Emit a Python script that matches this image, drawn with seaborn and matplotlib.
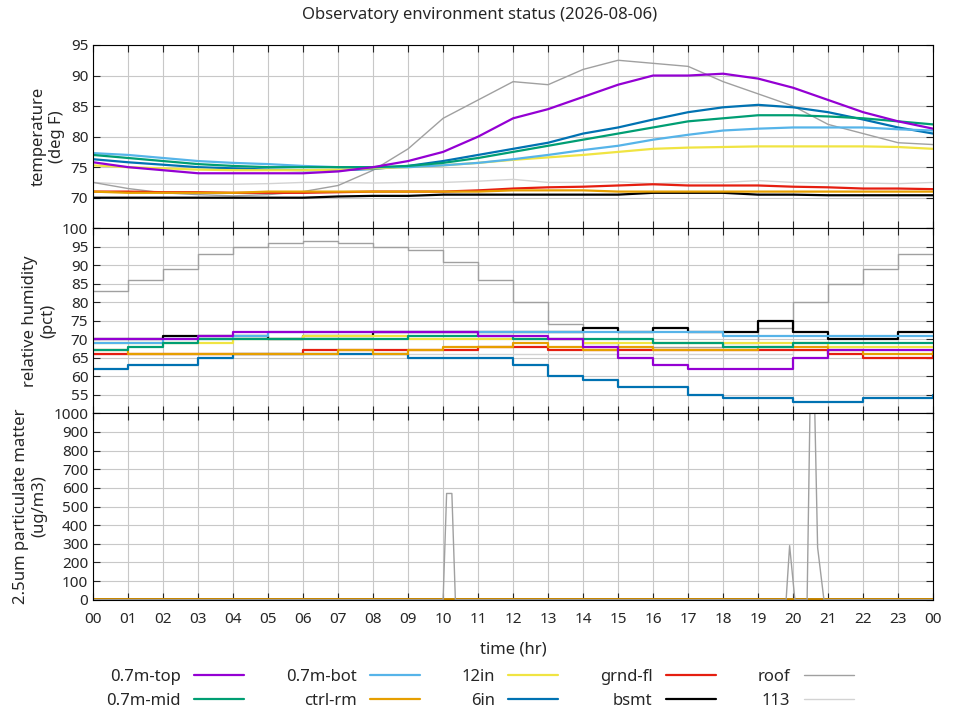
import numpy as np
import matplotlib
matplotlib.use("Agg")
import matplotlib.pyplot as plt
from matplotlib.ticker import MultipleLocator, FuncFormatter
import seaborn as sns

# ── hourly samples (hr 0..24) ──
hours = list(range(25))
hour_labels = [f"{h % 24:02d}" for h in hours]

temp = {
    "0.7m-top": [75.8, 75, 74.5, 74, 74, 74, 74, 74.3, 75, 76, 77.5, 80, 83, 84.5, 86.5, 88.5, 90, 90, 90.3, 89.5, 88, 86, 84, 82.5, 81.3],
    "0.7m-mid": [77, 76.5, 76, 75.5, 75.2, 75, 75, 75, 75, 75.2, 75.7, 76.5, 77.5, 78.5, 79.5, 80.5, 81.5, 82.5, 83, 83.5, 83.5, 83.3, 83, 82.5, 82],
    "0.7m-bot": [77.3, 77, 76.5, 76, 75.7, 75.5, 75.2, 75, 75, 75, 75.3, 75.7, 76.3, 77, 77.8, 78.5, 79.5, 80.3, 81, 81.3, 81.5, 81.5, 81.5, 81.2, 81],
    "ctrl-rm": [71, 70.8, 70.8, 70.8, 70.8, 71, 71, 71, 71, 71, 71, 71, 71.2, 71.2, 71.2, 71, 71, 71, 71, 71, 71, 71, 71, 71, 71],
    "12in": [75.3, 75, 74.8, 74.6, 74.5, 74.5, 74.5, 74.6, 74.8, 75, 75.3, 75.7, 76.2, 76.6, 77, 77.5, 78, 78.2, 78.3, 78.4, 78.4, 78.4, 78.4, 78.3, 78],
    "6in": [76.3, 75.8, 75.4, 75, 74.8, 74.6, 74.5, 74.5, 74.7, 75.2, 76, 77, 78, 79, 80.5, 81.5, 82.8, 84, 84.8, 85.2, 84.8, 84, 82.8, 81.5, 80.5],
    "grnd-fl": [71, 71, 70.9, 70.9, 70.8, 70.8, 70.8, 70.9, 71, 71, 71, 71.2, 71.5, 71.7, 71.8, 72, 72.2, 72, 72, 72, 71.8, 71.7, 71.5, 71.5, 71.4],
    "bsmt": [70, 70, 70, 70, 70, 70, 70, 70.2, 70.3, 70.3, 70.5, 70.5, 70.5, 70.5, 70.5, 70.5, 70.8, 70.8, 70.8, 70.5, 70.5, 70.4, 70.4, 70.4, 70.4],
    "roof": [72.5, 71.5, 70.8, 70.5, 70.3, 70.5, 71, 72, 74.5, 78, 83, 86, 89, 88.5, 91, 92.5, 92, 91.5, 89, 87, 85, 82, 80.5, 79, 78.7],
    "113": [72.5, 72.2, 72.2, 72.2, 72.2, 72.3, 72.5, 72.5, 72.4, 72.5, 72.5, 72.7, 73, 72.5, 72.5, 72.6, 72.3, 72.5, 72.5, 72.8, 72.5, 72.4, 72.4, 72.3, 72.5],
}

rh = {
    "0.7m-top": [70, 70, 70, 71, 72, 72, 72, 72, 72, 72, 72, 71, 71, 70, 68, 65, 63, 62, 62, 62, 65, 67, 67, 67, 67],
    "0.7m-mid": [67, 68, 69, 70, 70, 70, 70, 70, 70, 71, 71, 71, 70, 70, 70, 70, 69, 69, 68, 68, 69, 69, 69, 69, 69],
    "0.7m-bot": [69, 69, 70, 70, 71, 72, 72, 72, 72, 72, 72, 72, 72, 72, 72, 72, 72, 72, 71, 71, 71, 71, 71, 71, 71],
    "ctrl-rm": [67, 66, 66, 66, 66, 66, 66, 67, 66, 67, 68, 68, 69, 68, 67, 68, 67, 67, 67, 68, 68, 67, 66, 66, 67],
    "12in": [69, 69, 69, 69, 70, 70, 71, 71, 71, 70, 70, 70, 70, 70, 69, 69, 69, 69, 69, 69, 69, 68, 68, 68, 68],
    "6in": [62, 63, 63, 65, 66, 66, 66, 66, 66, 65, 65, 65, 63, 60, 59, 57, 57, 55, 54, 54, 53, 53, 54, 54, 55],
    "grnd-fl": [66, 66, 66, 66, 66, 66, 67, 67, 67, 67, 67, 68, 68, 67, 67, 67, 67, 67, 67, 67, 67, 66, 65, 65, 66],
    "bsmt": [70, 70, 71, 71, 71, 70, 71, 71, 72, 72, 72, 72, 72, 72, 73, 72, 73, 72, 72, 75, 72, 70, 70, 72, 72],
    "roof": [83, 86, 89, 93, 95, 96, 96.5, 96, 95, 94, 91, 86, 80, 74, 69, 68, 68, 68, 69, 73, 80, 85, 89, 93, 93],
    "113": [66, 66, 66, 66, 66, 66, 66, 66, 66, 66, 66, 66, 66, 66, 66, 66, 66, 66, 66, 66, 67, 67, 67, 67, 67],
}

# particulate matter: only roof has events, others near zero
pm_roof_t = [0, 10.0, 10.1, 10.25, 10.35, 19.8, 19.9, 20.05, 20.4, 20.48, 20.62, 20.7, 20.88, 24]
pm_roof_v = [0, 0, 570, 570, 0, 0, 290, 0, 0, 1000, 1000, 280, 0, 0]
pm_low = {"grnd-fl": [5] * 25, "bsmt": [2] * 25, "ctrl-rm": [3] * 25}

colors = {
    "0.7m-top": "#9400d3", "0.7m-mid": "#009e73", "0.7m-bot": "#56b4e9",
    "ctrl-rm": "#e69f00", "12in": "#f0e442", "6in": "#0072b2",
    "grnd-fl": "#e51e10", "bsmt": "#000000", "roof": "#a0a0a0", "113": "#d3d3d3",
}
order = ["0.7m-top", "0.7m-mid", "0.7m-bot", "ctrl-rm", "12in", "6in",
         "grnd-fl", "bsmt", "roof", "113"]

sns.set_style("ticks")
plt.rcParams["font.family"] = ["Noto Sans", "DejaVu Sans"]

fig = plt.figure(figsize=(9.6, 7.2), dpi=100)
axes = [fig.add_axes([0.097, b, 0.875, h]) for b, h in
        [(0.683, 0.2545), (0.426, 0.257), (0.167, 0.259)]]
ax_t, ax_h, ax_p = axes


def lw(name):
    return 1.0 if name in ("roof", "113") else 1.6


for name in reversed(order):
    sns.lineplot(x=hours, y=temp[name], ax=ax_t, color=colors[name], lw=lw(name), label=name)
    sns.lineplot(x=hours, y=rh[name], ax=ax_h, color=colors[name], lw=lw(name),
                 drawstyle="steps-post", legend=False)
for name, vals in pm_low.items():
    sns.lineplot(x=hours, y=vals, ax=ax_p, color=colors[name], lw=1.2, legend=False)
sns.lineplot(x=pm_roof_t, y=pm_roof_v, ax=ax_p, color=colors["roof"], lw=1.0, legend=False)


def skip_bottom(lo):
    return FuncFormatter(lambda v, p: "" if abs(v - lo) < 1e-6 else f"{v:g}")


ax_t.set_ylim(65, 95)
ax_t.yaxis.set_major_locator(MultipleLocator(5))
ax_t.yaxis.set_major_formatter(skip_bottom(65))
ax_h.set_ylim(50, 100)
ax_h.yaxis.set_major_locator(MultipleLocator(5))
ax_h.yaxis.set_major_formatter(skip_bottom(50))
ax_p.set_ylim(0, 1000)
ax_p.yaxis.set_major_locator(MultipleLocator(100))

for ax in axes:
    ax.set_xlim(0, 24)
    ax.set_xticks(hours)
    ax.grid(True, color="#c8c8c8", lw=0.8)
    ax.tick_params(direction="in", top=True, right=True, labelsize=11, length=5)
    for s in ax.spines.values():
        s.set_color("black")
        s.set_linewidth(0.8)
    ax.set_xlabel("")
    if ax is ax_p:
        ax.set_xticklabels(hour_labels)
        ax.tick_params(axis="x", pad=9)
    else:
        ax.set_xticklabels([])

ax_t.set_ylabel("temperature\n(deg F)", fontsize=12)
ax_h.set_ylabel("relative humidity\n(pct)", fontsize=12)
ax_p.set_ylabel("2.5um particulate matter\n(ug/m3)", fontsize=12)
ax_p.set_xlabel("time (hr)", fontsize=12, labelpad=10)
fig.suptitle("Observatory environment status (2026-08-06)", y=0.99, fontsize=12)

h, l = ax_t.get_legend_handles_labels()
hmap = dict(zip(l, h))
ax_t.get_legend().remove()
fig.legend([hmap[n] for n in order], order, loc="lower center", ncol=5,
           bbox_to_anchor=(0.5, -0.005), frameon=False, markerfirst=False,
           fontsize=12, handlelength=3, columnspacing=2.5, labelspacing=0.45)

fig.savefig("out.png", dpi=100)
